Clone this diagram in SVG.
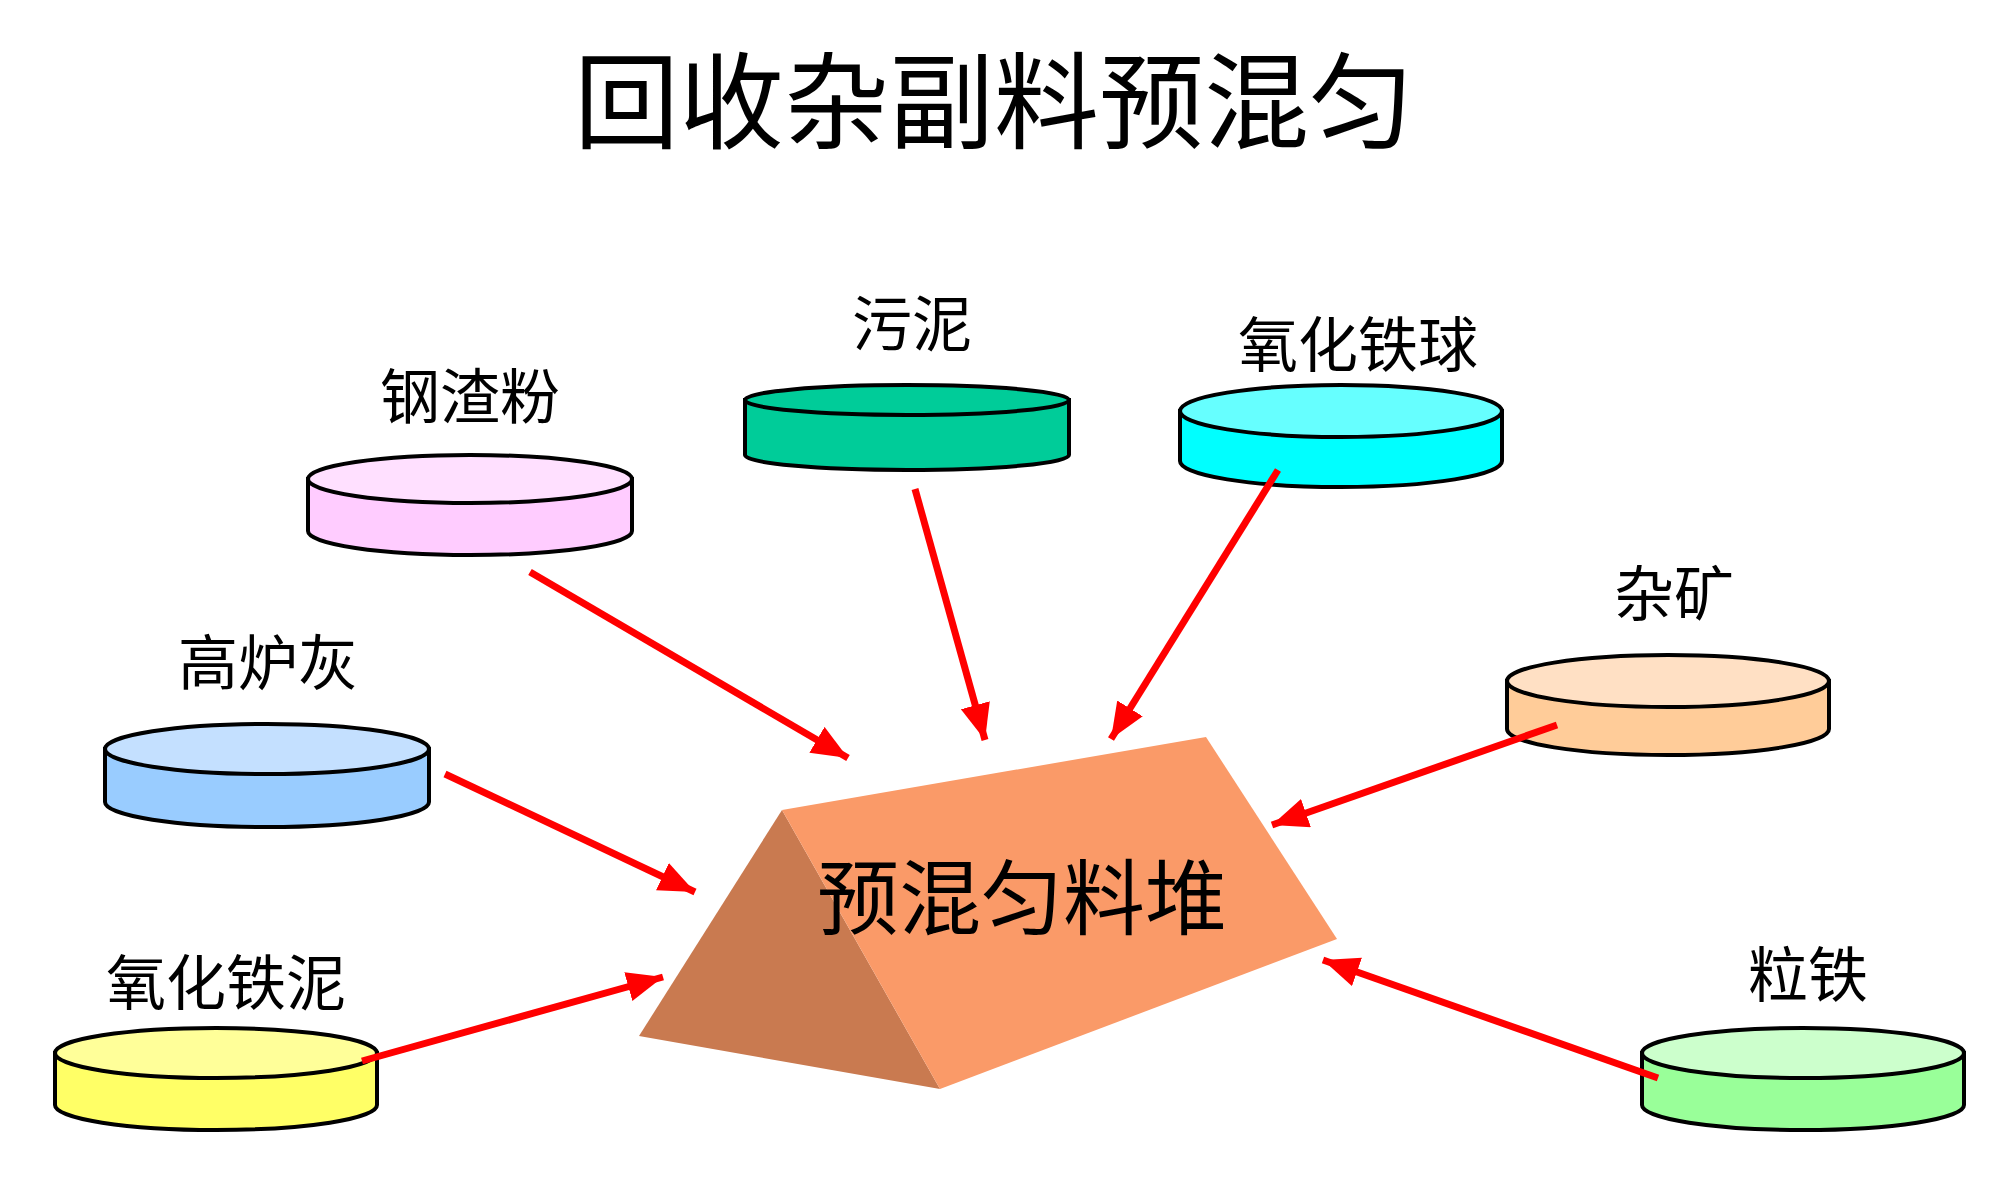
<svg xmlns="http://www.w3.org/2000/svg" width="2000" height="1180" viewBox="0 0 2000 1180">
<defs>
<style>
text{font-family:"Liberation Serif","Noto Sans CJK SC",serif;fill:#000;text-anchor:middle}
.title{font-size:105px}
.lbl{font-size:60px}
.pile{font-size:82px}
.disk path,.disk ellipse{stroke:#000;stroke-width:4}
.conn line{stroke:#ff0000;stroke-width:7;marker-end:url(#ah)}
</style>
<marker id="ah" markerUnits="userSpaceOnUse" markerWidth="38" markerHeight="32" refX="36" refY="15" orient="auto">
<path d="M0,0 L36,15 L0,30 Z" fill="#ff0000"/>
</marker>
</defs>
<rect width="2000" height="1180" fill="#fff"/>
<text class="title" x="994" y="140">回收杂副料预混匀</text>

<g id="pile">
<polygon points="782,810 639,1036 940,1089" fill="#c97a50"/>
<polygon points="782,810 1206,737 1337,939 940,1089" fill="#fa9a68"/>
<text class="pile" x="1022" y="928">预混匀料堆</text>
</g>

<g id="gangzhafen" class="disk">
<path d="M308,479 L308,531 A162,24 0 0 0 632,531 L632,479 Z" fill="#ffccff"/>
<ellipse cx="470" cy="479" rx="162" ry="24" fill="#ffe0ff"/>
<text class="lbl" x="470" y="419">钢渣粉</text>
</g>

<g id="wuni" class="disk">
<path d="M745,400 L745,455 A162,15 0 0 0 1069,455 L1069,400 Z" fill="#00cc99"/>
<ellipse cx="907" cy="400" rx="162" ry="15" fill="#00cc99"/>
<text class="lbl" x="912" y="346">污泥</text>
</g>

<g id="yanghuatieqiu" class="disk">
<path d="M1180,411 L1180,461 A161,26 0 0 0 1502,461 L1502,411 Z" fill="#00ffff"/>
<ellipse cx="1341" cy="411" rx="161" ry="26" fill="#66ffff"/>
<text class="lbl" x="1358" y="367">氧化铁球</text>
</g>

<g id="zakuang" class="disk">
<path d="M1507,681 L1507,729 A161,26 0 0 0 1829,729 L1829,681 Z" fill="#ffcc99"/>
<ellipse cx="1668" cy="681" rx="161" ry="26" fill="#ffe0c4"/>
<text class="lbl" x="1674" y="616">杂矿</text>
</g>

<g id="gaoluhui" class="disk">
<path d="M105,749 L105,802 A162,25 0 0 0 429,802 L429,749 Z" fill="#99ccff"/>
<ellipse cx="267" cy="749" rx="162" ry="25" fill="#c4e0ff"/>
<text class="lbl" x="268" y="685">高炉灰</text>
</g>

<g id="yanghuatieni" class="disk">
<path d="M55,1053 L55,1105 A161,25 0 0 0 377,1105 L377,1053 Z" fill="#ffff66"/>
<ellipse cx="216" cy="1053" rx="161" ry="25" fill="#ffff99"/>
<text class="lbl" x="226" y="1005">氧化铁泥</text>
</g>

<g id="litie" class="disk">
<path d="M1642,1053 L1642,1105 A161,25 0 0 0 1964,1105 L1964,1053 Z" fill="#99ff99"/>
<ellipse cx="1803" cy="1053" rx="161" ry="25" fill="#ccffcc"/>
<text class="lbl" x="1808" y="997">粒铁</text>
</g>

<g id="connectors" class="conn">
<line x1="530" y1="572" x2="848" y2="758"/>
<line x1="915" y1="489" x2="985" y2="740"/>
<line x1="1278" y1="470" x2="1111" y2="739"/>
<line x1="1557" y1="725" x2="1272" y2="825"/>
<line x1="445" y1="774" x2="695" y2="892"/>
<line x1="362" y1="1061" x2="663" y2="977"/>
<line x1="1658" y1="1078" x2="1323" y2="960"/>
</g>
</svg>
